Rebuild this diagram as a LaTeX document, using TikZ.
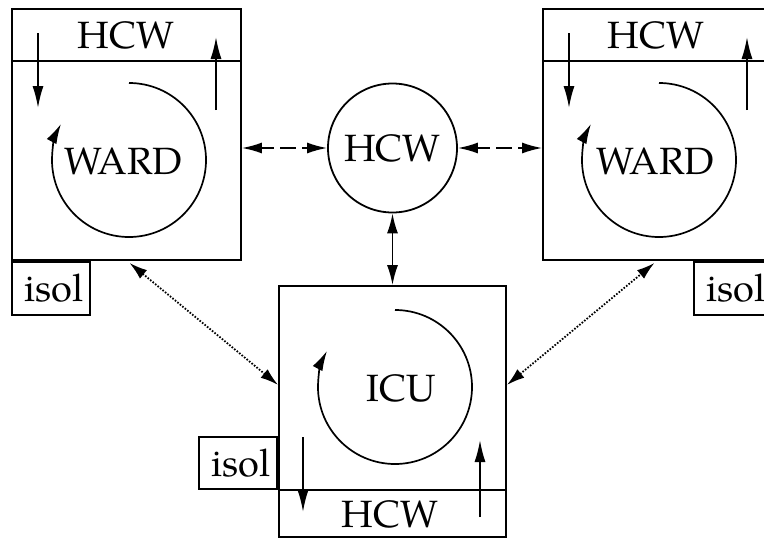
\documentclass[tikz,border=0pt]{standalone}
\usepackage{fontspec}
\setmainfont{TeX Gyre Pagella}
\usetikzlibrary{arrows.meta,calc}

\tikzset{
  unit/.style={draw, line width=1.8pt, minimum width=229pt, minimum height=251pt, inner sep=0pt},
  tag/.style={draw, line width=1.8pt, minimum width=78pt, minimum height=53pt, inner sep=0pt},
  hubnode/.style={draw, circle, line width=1.8pt, minimum size=129pt, inner sep=0pt},
  lbl/.style={font=\fontsize{38}{44}\selectfont, inner sep=0pt},
  tip/.style={-{Latex[length=22pt,width=11pt]}},
  flow/.style={line width=1.7pt, tip},
  loop/.style={line width=1.7pt, -{Latex[length=20pt,width=11pt]}},
  both/.style={line width=1.7pt, {Latex[length=20pt,width=11pt]}-{Latex[length=20pt,width=11pt]}},
  link/.style={both, dash pattern=on 16pt off 6pt, dash phase=3pt},
  transfer/.style={line width=1.8pt, dash pattern=on 1.6pt off 1.6pt,
    {Latex[length=18pt,width=11pt]}-{Latex[length=18pt,width=11pt]}},
}

\begin{document}
\begin{tikzpicture}[x=1pt, y=-1pt]
\useasboundingbox (0,0) rectangle (764,538);
\clip (0,0) rectangle (764,538);

% units
\node[unit] (wardL) at (126.5,134.5) {};
\node[unit] (wardR) at (657.5,134.5) {};
\node[unit, minimum width=227pt] (icu) at (392.5,411.5) {};
\node[hubnode] (hub) at (392.5,148) {};

% staff strips
\draw[line width=1.8pt] (wardL.west |- 0,61) -- (wardL.east |- 0,61);
\draw[line width=1.8pt] (wardR.west |- 0,61) -- (wardR.east |- 0,61);
\draw[line width=1.8pt] (icu.west |- 0,490) -- (icu.east |- 0,490);

% isolation rooms
\node[tag, anchor=north west] (isoL) at (wardL.south west) {};
\node[tag, anchor=north east] (isoR) at (wardR.south east) {};
\node[tag, minimum height=52pt, anchor=south east] (isoC) at (icu.west |- 0,490) {};
\node[lbl] at ($(isoL.center)+(3,0)$) {isol};
\node[lbl] at ($(isoR.center)+(3,0)$) {isol};
\node[lbl] at ($(isoC.center)+(3,0)$) {isol};

% labels
\node[lbl] (hcwL) at (126,35) {HCW};
\node[lbl] (hcwR) at (656,35) {HCW};
\node[lbl] (hcwC) at (390,514) {HCW};
\node[lbl] at (hub.center) {HCW};
\node[lbl] at (123,161) {WARD};
\node[lbl] at (655,161) {WARD};
\node[lbl] at (401,388) {ICU};

% circulation inside each unit (clockwise on the page)
\draw[loop] (129,83) arc[start angle=-90, end angle=208, radius=77];
\draw[loop] (659,83) arc[start angle=-90, end angle=208, radius=77];
\draw[loop] (395,310) arc[start angle=-90, end angle=208, radius=77];

% staff in / out
\coordinate (aL1) at (38,33);  \coordinate (aL2) at (38,108);
\coordinate (bL1) at (216,110); \coordinate (bL2) at (216,37);
\coordinate (aR1) at (569,33); \coordinate (aR2) at (569,108);
\coordinate (bR1) at (747,110); \coordinate (bR2) at (747,37);
\coordinate (aC1) at (303,437); \coordinate (aC2) at (303,512);
\coordinate (bC1) at (480,517); \coordinate (bC2) at (480,440);
\draw[flow] (aL1) -- (aL2);
\draw[flow] (bL1) -- (bL2);
\draw[flow] (aR1) -- (aR2);
\draw[flow] (bR1) -- (bR2);
\draw[flow] (aC1) -- (aC2);
\draw[flow] (bC1) -- (bC2);

% links to shared staff
\draw[link] (wardL.east |- hub.west) -- (hub.west);
\draw[link] (hub.east) -- (wardR.west |- hub.east);
\draw[both] (hub.south) -- (icu.north);

% patient transfers
\draw[transfer] ($(wardL.south)+(3,2)$) -- ($(icu.north west)!0.395!(icu.south west)$);
\draw[transfer] ($(icu.north east)!0.395!(icu.south east)$) -- ($(wardR.south)+(-3,2)$);
\end{tikzpicture}
\end{document}
